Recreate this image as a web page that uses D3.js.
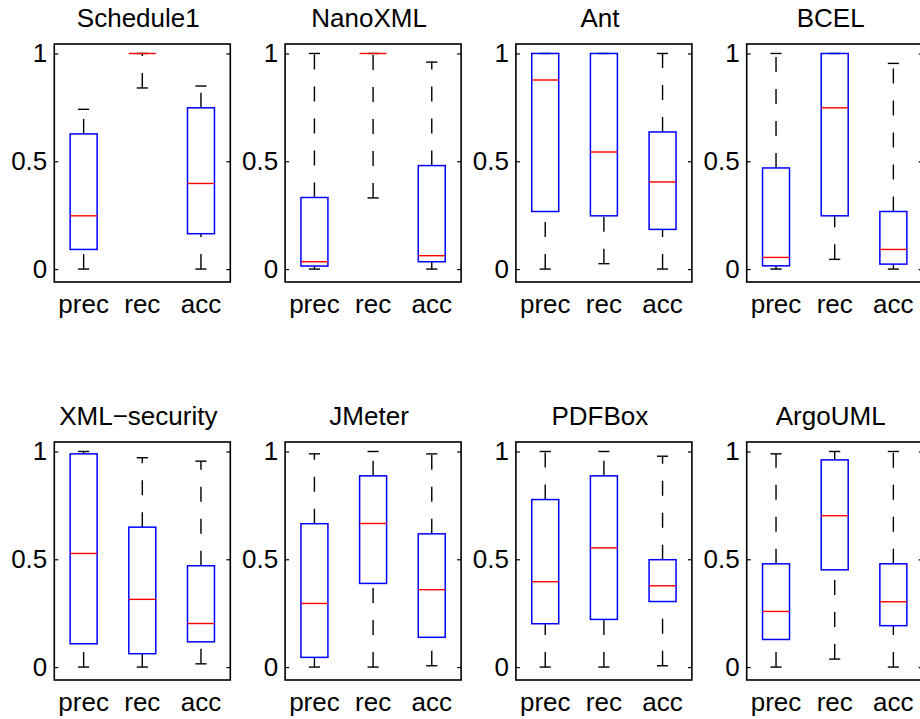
<!DOCTYPE html>
<html>
<head>
<meta charset="utf-8">
<script src="https://cdn.jsdelivr.net/npm/d3@7/dist/d3.min.js"></script>
<style>
  body { margin: 0; background: #fff; }
  svg { display: block; }
  text { font-family: "Liberation Sans", Arial, Helvetica, sans-serif; fill: #000; }
</style>
</head>
<body>
<svg id="chart" width="920" height="719"></svg>
<script>
// one panel per project, three boxes each
const projects = ["Schedule1", "NanoXML", "Ant", "BCEL", "XML\u2212security", "JMeter", "PDFBox", "ArgoUML"]
const metrics = ["prec", "rec", "acc"]
const yTicks = [0, 0.5, 1]

// box statistics, [prec, rec, acc] per project
const whiskerLow = [[0, 0.84, 0], [0, 0.33, 0], [0, 0.025, 0], [0, 0.045, 0],
  [0, 0, 0.015], [0, 0, 0.006], [0, 0, 0.006], [0, 0.037, 0]]
const q1 = [[0.091, 1, 0.164], [0.014, 1, 0.034], [0.267, 0.247, 0.184], [0.015, 0.247, 0.023],
  [0.108, 0.062, 0.117], [0.045, 0.388, 0.138], [0.201, 0.221, 0.304], [0.128, 0.451, 0.192]]
const median = [[0.247, 1, 0.397], [0.034, 1, 0.062], [0.877, 0.543, 0.404], [0.054, 0.748, 0.091],
  [0.527, 0.314, 0.202], [0.295, 0.666, 0.359], [0.396, 0.553, 0.377], [0.258, 0.702, 0.303]]
const q3 = [[0.627, 1, 0.748], [0.332, 1, 0.48], [1, 1, 0.636], [0.469, 1, 0.267],
  [0.989, 0.649, 0.47], [0.665, 0.887, 0.618], [0.777, 0.887, 0.498], [0.479, 0.961, 0.479]]
const whiskerHigh = [[0.741, 1, 0.849], [1, 1, 0.96], [1, 1, 1], [1, 1, 0.954],
  [1, 0.971, 0.955], [0.989, 1, 0.989], [1, 1, 0.978], [0.989, 1, 1]]

const svg = d3.select("#chart")
const panelW = 176, panelH = 238
const colX = [54.3, 285.1, 515.9, 746.7]
const rowY = [44, 442]
const boxW = 0.46, capW = 0.095
const fs = 26

const x = d3.scaleLinear().domain([0.5, 3.5]).range([0, panelW])
const y = d3.scaleLinear().domain([-0.06, 1.044]).range([panelH, 0])

projects.forEach((name, p) => {
  const g = svg.append("g")
    .attr("transform", `translate(${colX[p % 4]},${rowY[Math.floor(p / 4)]})`)

  // title
  g.append("text")
    .attr("x", panelW / 2 - 4)
    .attr("y", -17)
    .attr("text-anchor", "middle")
    .attr("font-size", fs)
    .text(name)

  // y axis, ticks pointing inward on both sides
  const left = g.append("g")
    .call(d3.axisLeft(y).tickValues(yTicks).tickSize(-4).tickPadding(7)
      .tickFormat(d => d === 0.5 ? "0.5" : d3.format("d")(d)))
  left.select(".domain").remove()
  left.selectAll("text").attr("font-size", fs).attr("font-family", null)
  left.selectAll("line").attr("stroke", "#000").attr("stroke-width", 1.2)

  const right = g.append("g")
    .attr("transform", `translate(${panelW},0)`)
    .call(d3.axisRight(y).tickValues(yTicks).tickSize(-4).tickFormat(""))
  right.select(".domain").remove()
  right.selectAll("line").attr("stroke", "#000").attr("stroke-width", 1.2)

  // category labels
  g.selectAll(".xlab")
    .data(metrics)
    .join("text")
    .attr("class", "xlab")
    .attr("x", (d, i) => x(i + 1))
    .attr("y", panelH + 31)
    .attr("text-anchor", "middle")
    .attr("font-size", fs)
    .text(d => d)

  metrics.forEach((m, i) => {
    const cx = x(i + 1)
    const bx = g.append("g")
    // whiskers: drawn upward from their lower end like matlab does
    bx.append("line")
      .attr("x1", cx).attr("x2", cx)
      .attr("y1", y(whiskerLow[p][i])).attr("y2", y(q1[p][i]))
      .attr("stroke", "#000").attr("stroke-width", 1.4)
      .attr("stroke-dasharray", "15,17")
    bx.append("line")
      .attr("x1", cx).attr("x2", cx)
      .attr("y1", y(q3[p][i])).attr("y2", y(whiskerHigh[p][i]))
      .attr("stroke", "#000").attr("stroke-width", 1.4)
      .attr("stroke-dasharray", "15,17")
    ;[whiskerLow[p][i], whiskerHigh[p][i]].forEach(v => {
      bx.append("line")
        .attr("x1", x(i + 1 - capW)).attr("x2", x(i + 1 + capW))
        .attr("y1", y(v)).attr("y2", y(v))
        .attr("stroke", "#000").attr("stroke-width", 1.4)
    })
    bx.append("rect")
      .attr("x", x(i + 1 - boxW / 2))
      .attr("width", x(i + 1 + boxW / 2) - x(i + 1 - boxW / 2))
      .attr("y", y(q3[p][i]))
      .attr("height", y(q1[p][i]) - y(q3[p][i]))
      .attr("fill", "none").attr("stroke", "#0000ff").attr("stroke-width", 1.5)
    bx.append("line")
      .attr("x1", x(i + 1 - boxW / 2)).attr("x2", x(i + 1 + boxW / 2))
      .attr("y1", y(median[p][i])).attr("y2", y(median[p][i]))
      .attr("stroke", "#ff0000").attr("stroke-width", 1.4)
  })

  // axes frame
  g.append("rect")
    .attr("width", panelW).attr("height", panelH)
    .attr("fill", "none").attr("stroke", "#000").attr("stroke-width", 1.6)
})
</script>
</body>
</html>
